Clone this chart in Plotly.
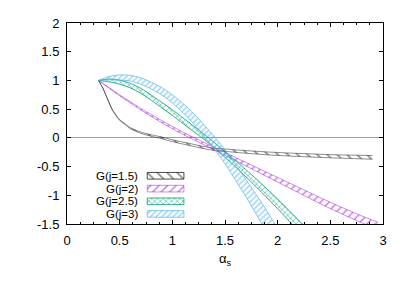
import plotly.graph_objects as go

# ---------------- data ----------------
x_j15 = [0.30, 0.32, 0.34, 0.37, 0.40, 0.43, 0.47, 0.50, 0.55, 0.60, 0.70, 0.80, 0.90,
         1.00, 1.10, 1.20, 1.30, 1.40, 1.50, 1.70, 1.90, 2.10, 2.30, 2.50, 2.70, 2.90]
c_j15 = [1.00, 0.93, 0.87, 0.74, 0.61, 0.49, 0.38, 0.31, 0.24, 0.17, 0.09, 0.04, 0.00,
         -0.05, -0.09, -0.13, -0.17, -0.20, -0.215, -0.245, -0.27, -0.29, -0.305, -0.32, -0.33, -0.34]
w_j15 = [0.0, 0.001, 0.002, 0.003, 0.004, 0.005, 0.006, 0.007, 0.008, 0.009, 0.011, 0.013, 0.015,
         0.016, 0.017, 0.018, 0.019, 0.02, 0.021, 0.023, 0.025, 0.026, 0.027, 0.028, 0.03, 0.032]

x_j2 = [0.30, 0.40, 0.50, 0.60, 0.70, 0.80, 0.90, 1.00, 1.10, 1.20, 1.40, 1.60, 1.80,
        2.00, 2.20, 2.40, 2.60, 2.80, 2.95]
c_j2 = [1.00, 0.87, 0.74, 0.62, 0.50, 0.39, 0.28, 0.18, 0.08, -0.01, -0.19, -0.37, -0.55,
        -0.73, -0.91, -1.09, -1.26, -1.42, -1.53]
w_j2 = [0.0, 0.005, 0.008, 0.01, 0.013, 0.016, 0.018, 0.02, 0.02, 0.02, 0.022, 0.028, 0.034,
        0.04, 0.047, 0.053, 0.057, 0.06, 0.062]

x_j25 = [0.30, 0.40, 0.50, 0.60, 0.70, 0.80, 0.90, 1.00, 1.10, 1.20, 1.30, 1.40, 1.50,
         1.60, 1.70, 1.80, 1.90, 2.00, 2.10, 2.20, 2.30]
c_j25 = [1.00, 1.00, 0.97, 0.91, 0.82, 0.70, 0.57, 0.44, 0.30, 0.16, 0.02, -0.13, -0.29,
         -0.45, -0.62, -0.79, -0.97, -1.15, -1.34, -1.53, -1.72]
w_j25 = [0.0, 0.025, 0.035, 0.04, 0.043, 0.045, 0.048, 0.05, 0.05, 0.048, 0.046, 0.045, 0.048,
         0.055, 0.062, 0.07, 0.077, 0.084, 0.09, 0.095, 0.1]

x_j3 = [0.30, 0.40, 0.50, 0.60, 0.70, 0.80, 0.90, 1.00, 1.10, 1.20, 1.30, 1.40, 1.50,
        1.60, 1.70, 1.80, 1.90, 2.00, 2.10]
c_j3 = [1.00, 1.04, 1.05, 1.04, 0.99, 0.91, 0.81, 0.68, 0.52, 0.34, 0.13, -0.09, -0.33,
        -0.60, -0.88, -1.17, -1.47, -1.78, -2.10]
w_j3 = [0.0, 0.03, 0.045, 0.05, 0.055, 0.06, 0.065, 0.07, 0.08, 0.09, 0.10, 0.11, 0.12,
        0.14, 0.15, 0.17, 0.19, 0.20, 0.22]

series_names = ["G(j=1.5)", "G(j=2)", "G(j=2.5)", "G(j=3)"]
x_ticks = [0, 0.5, 1, 1.5, 2, 2.5, 3]
x_ticklabels = ["0", "0.5", "1", "1.5", "2", "2.5", "3"]
y_ticks = [-1.5, -1, -0.5, 0, 0.5, 1, 1.5, 2]
y_ticklabels = ["-1.5", "-1", "-0.5", "0", "0.5", "1", "1.5", "2"]

# ---------------- styles ----------------
FONT = "Liberation Sans, Arial, sans-serif"
styles = [
    dict(col="#000000", edge="rgba(0,0,0,0.45)", shape="\\", size=7, sol=0.22),
    dict(col="#9400d3", edge="rgba(148,0,211,0.45)", shape="/", size=6, sol=0.25),
    dict(col="#009e73", edge="rgba(0,158,115,0.8)", shape="x", size=4, sol=0.4),
    dict(col="#56b4e9", edge="rgba(86,180,233,0.7)", shape="/", size=4, sol=0.45),
]
data = [(x_j15, c_j15, w_j15), (x_j2, c_j2, w_j2), (x_j25, c_j25, w_j25), (x_j3, c_j3, w_j3)]

fig = go.Figure()
for (xs, cs, ws), st, nm in zip(data, styles, series_names):
    lo = [c - w for c, w in zip(cs, ws)]
    hi = [c + w for c, w in zip(cs, ws)]
    fig.add_trace(go.Scatter(x=xs, y=lo, mode="lines", line=dict(color=st["edge"], width=1, shape="spline", smoothing=0.6),
                             showlegend=False, hoverinfo="skip"))
    fig.add_trace(go.Scatter(x=xs, y=hi, mode="lines", line=dict(color=st["edge"], width=1, shape="spline", smoothing=0.6),
                             fill="tonexty", fillcolor="rgba(0,0,0,0)",
                             fillpattern=dict(shape=st["shape"], fgcolor=st["col"], bgcolor="rgba(0,0,0,0)",
                                              size=st["size"], solidity=st["sol"], fillmode="overlay"),
                             name=nm, showlegend=False))

# ---------------- custom legend (text left, sample right) ----------------
leg_rows = [0.240, 0.176, 0.113, 0.050]
bx0, bx1, bh = 0.254, 0.370, 0.0165
for yc, st, nm in zip(leg_rows, styles, series_names):
    fig.add_trace(go.Scatter(
        x=[bx0, bx1, bx1, bx0, bx0], y=[yc - bh, yc - bh, yc + bh, yc + bh, yc - bh],
        xaxis="x2", yaxis="y2", mode="lines", fill="toself", fillcolor="rgba(0,0,0,0)",
        line=dict(color=st["edge"] if nm != "G(j=1.5)" else "rgba(0,0,0,0.7)", width=1),
        fillpattern=dict(shape=st["shape"], fgcolor=st["col"], bgcolor="rgba(0,0,0,0)",
                         size=st["size"], solidity=st["sol"], fillmode="overlay"),
        showlegend=False, hoverinfo="skip"))
    fig.add_annotation(x=0.229, y=yc, xref="paper", yref="paper", text=nm, showarrow=False,
                       xanchor="right", yanchor="middle", borderpad=0,
                       font=dict(family=FONT, size=11.5, color="black"))

axis_common = dict(showgrid=False, showline=True, linecolor="black", linewidth=1, mirror="ticks",
                   ticks="inside", ticklen=4, tickcolor="black", tickwidth=1, ticklabelstandoff=4,
                   tickfont=dict(family=FONT, size=13, color="black"))
# the page adds an 8px body margin, so the figure is sized/margined to compensate
fig.update_layout(
    width=399, height=270,
    margin=dict(l=59, r=24, t=8, b=54),
    paper_bgcolor="white", plot_bgcolor="white",
    font=dict(family=FONT, size=13, color="black"),
    xaxis=dict(range=[0, 3], tickvals=x_ticks, ticktext=x_ticklabels, zeroline=False,
               minor=dict(dtick=0.125, tick0=0, ticks="inside", ticklen=2, tickcolor="black"),
               title=dict(text="α<sub>s</sub>", font=dict(family=FONT, size=13), standoff=7),
               **axis_common),
    yaxis=dict(range=[-1.5, 2], tickvals=y_ticks, ticktext=y_ticklabels,
               zeroline=True, zerolinecolor="#a0a0a0", zerolinewidth=1, **axis_common),
    xaxis2=dict(range=[0, 1], overlaying="x", visible=False, fixedrange=True),
    yaxis2=dict(range=[0, 1], overlaying="y", visible=False, fixedrange=True),
    showlegend=False,
)

fig.write_html("out.html")
